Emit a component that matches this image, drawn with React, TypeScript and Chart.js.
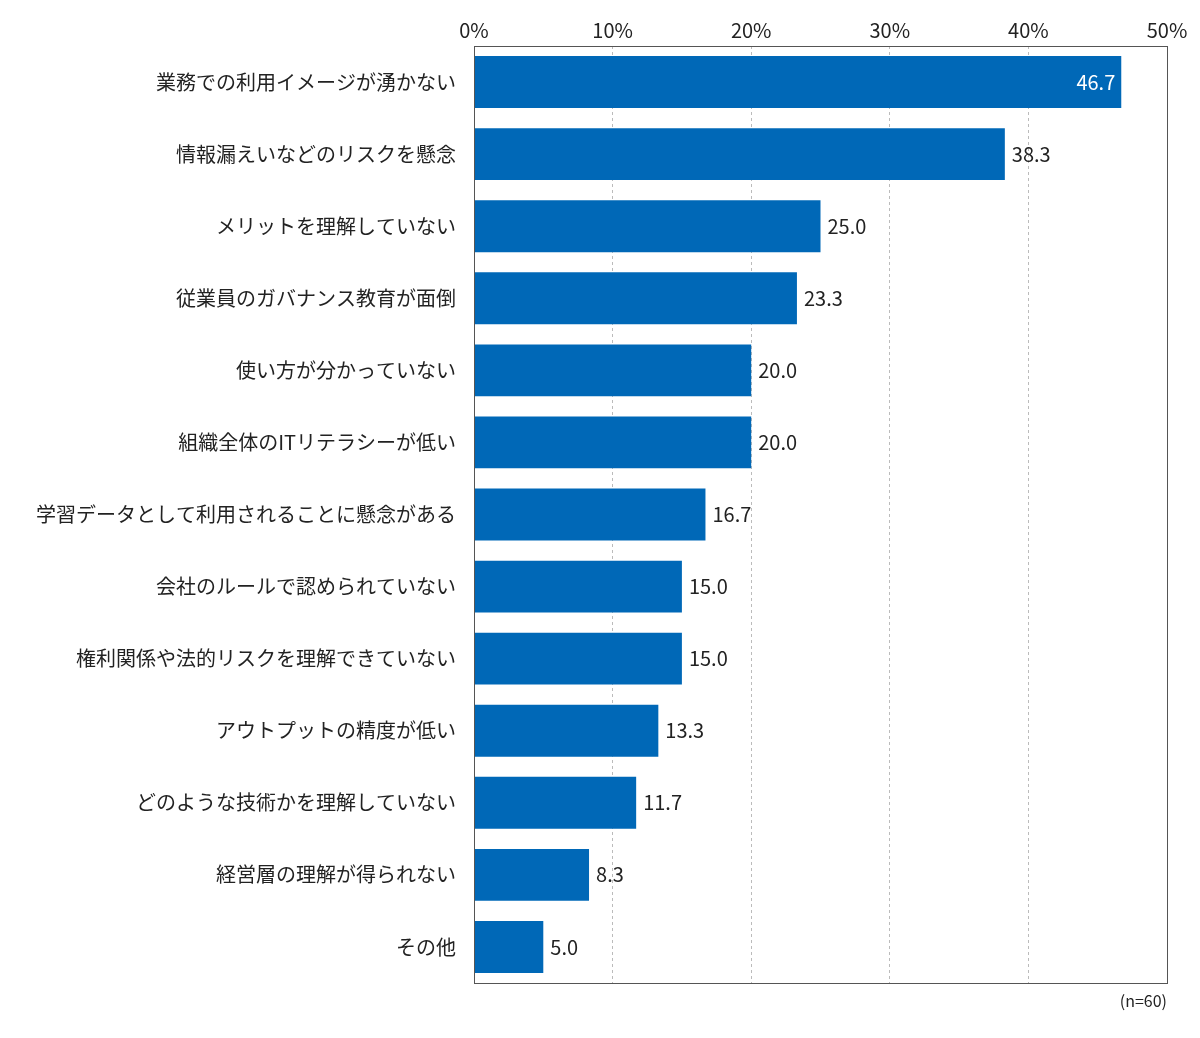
import React, { useEffect, useRef } from "react";
import { Chart, registerables } from "chart.js";
Chart.register(...registerables);

const categories = [
  "業務での利用イメージが湧かない",
  "情報漏えいなどのリスクを懸念",
  "メリットを理解していない",
  "従業員のガバナンス教育が面倒",
  "使い方が分かっていない",
  "組織全体のITリテラシーが低い",
  "学習データとして利用されることに懸念がある",
  "会社のルールで認められていない",
  "権利関係や法的リスクを理解できていない",
  "アウトプットの精度が低い",
  "どのような技術かを理解していない",
  "経営層の理解が得られない",
  "その他",
];
const values = [46.7, 38.3, 25.0, 23.3, 20.0, 20.0, 16.7, 15.0, 15.0, 13.3, 11.7, 8.3, 5.0];
const xTicks = [0, 10, 20, 30, 40, 50];
const note = "(n=60)";
const FONT = "'Noto Sans CJK JP', 'Noto Sans', sans-serif";

export default function App() {
  const ref = useRef<HTMLCanvasElement>(null);
  useEffect(() => {
    const labelPlugin = {
      id: "labels",
      afterDatasetsDraw(chart: any) {
        const ctx = chart.ctx;
        const meta = chart.getDatasetMeta(0);
        ctx.save();
        ctx.font = `20px ${FONT}`;
        ctx.textBaseline = "middle";
        meta.data.forEach((bar: any, i: number) => {
          const t = values[i].toFixed(1);
          if (values[i] > 45) {
            ctx.fillStyle = "#ffffff";
            ctx.textAlign = "right";
            ctx.fillText(t, bar.x - 6, bar.y);
          } else {
            ctx.fillStyle = "#222222";
            ctx.textAlign = "left";
            ctx.fillText(t, bar.x + 7, bar.y);
          }
        });
        const a = chart.chartArea;
        ctx.strokeStyle = "#555";
        ctx.lineWidth = 1;
        ctx.strokeRect(a.left + 0.5, a.top + 0.5, a.right - a.left, a.bottom - a.top);
        ctx.font = `16px ${FONT}`;
        ctx.textAlign = "right";
        ctx.fillStyle = "#222";
        ctx.fillText(note, a.right, a.bottom + 18);
        ctx.restore();
      },
    };
    const chart = new Chart(ref.current!, {
      type: "bar",
      data: {
        labels: categories,
        datasets: [{ data: values, backgroundColor: "#0068b7", categoryPercentage: 0.72, barPercentage: 1 }],
      },
      options: {
        indexAxis: "y",
        animation: false,
        responsive: false,
        layout: { padding: { left: 0, right: 33, top: 0, bottom: 55 } },
        plugins: { legend: { display: false }, tooltip: { enabled: false } },
        scales: {
          x: {
            position: "top",
            min: 0,
            max: 50,
            afterBuildTicks: (s: any) => { s.ticks = xTicks.map((v) => ({ value: v })); },
            afterFit: (s: any) => { s.height = 46; },
            ticks: { callback: (v: any) => v + "%", color: "#222", font: { size: 20, family: FONT }, padding: 4 },
            grid: { color: "#bbb", drawTicks: false, tickBorderDash: [3, 3] } as any,
            border: { display: false, dash: [3, 3] },
          },
          y: {
            afterFit: (s: any) => { s.width = 474; },
            ticks: { color: "#222", font: { size: 20, family: FONT }, padding: 10 },
            grid: { display: false },
            border: { display: false },
          },
        },
      },
      plugins: [labelPlugin],
    });
    return () => chart.destroy();
  }, []);
  return (
    <div style={{ position: "absolute", left: 0, top: 0, width: 1200, height: 1038, background: "#fff" }}>
      <canvas ref={ref} width={1200} height={1038} />
    </div>
  );
}
